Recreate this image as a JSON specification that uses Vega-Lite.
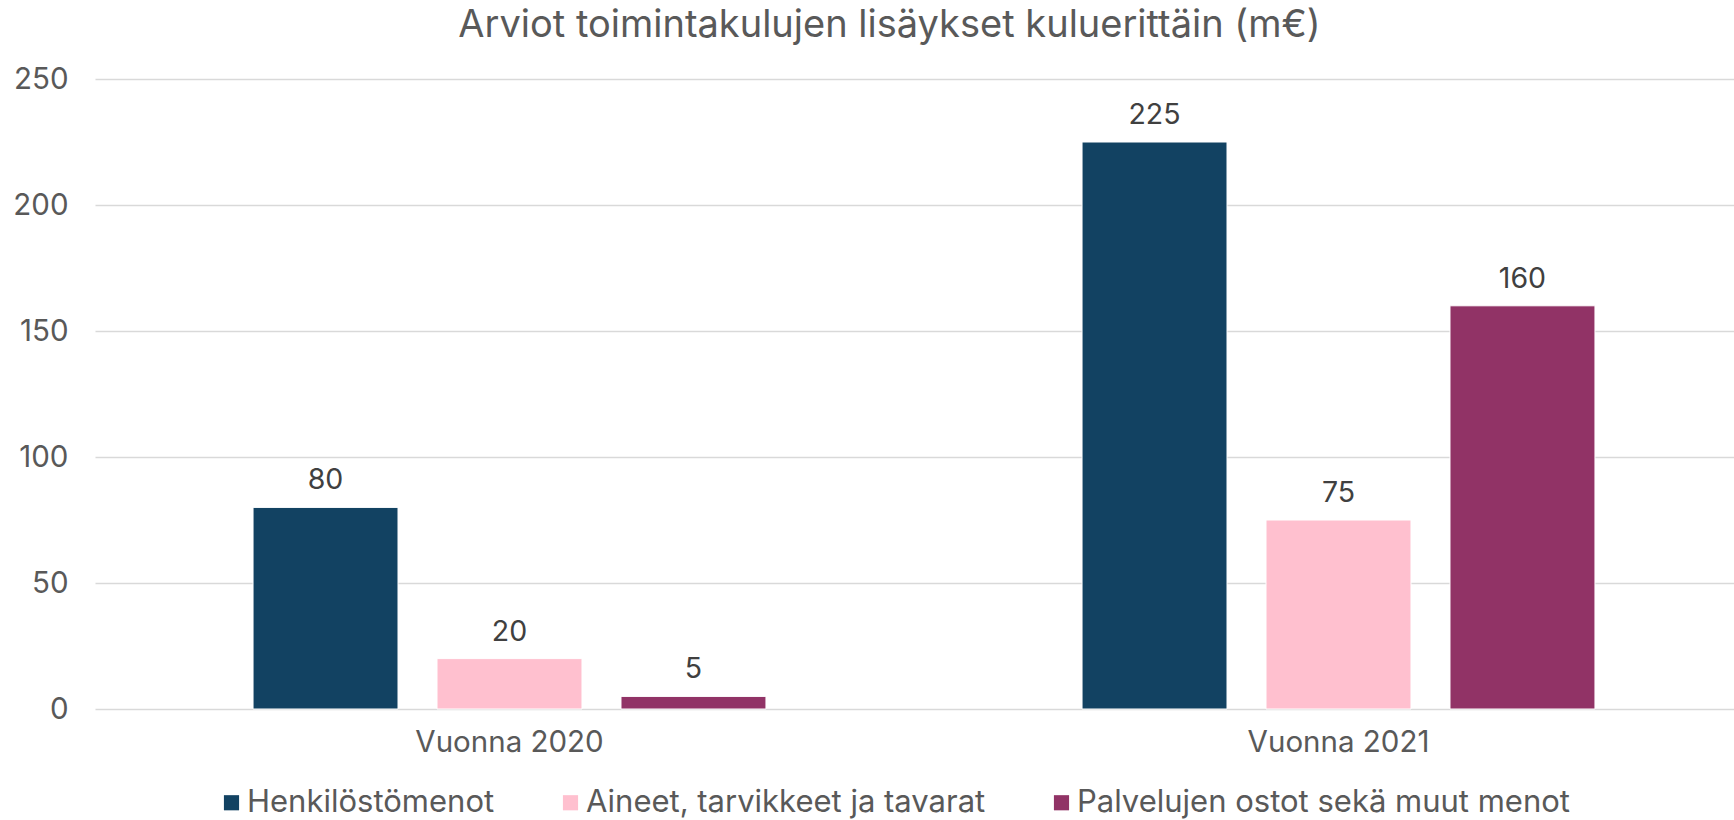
{
  "$schema": "https://vega.github.io/schema/vega-lite/v6.json",
  "autosize": {"type": "none"},
  "width": 1639,
  "height": 630,
  "padding": {"left": 95, "top": 79, "right": 0, "bottom": 111},
  "background": "white",
  "title": {
    "text": "Arviot toimintakulujen lisäykset kuluerittäin (m€)",
    "anchor": "middle",
    "dx": -25,
    "offset": 19,
    "fontSize": 38,
    "font": "Inter",
    "fontWeight": "normal",
    "color": "#595959"
  },
  "config": {
    "view": {"stroke": null},
    "font": "Inter"
  },
  "data": {
    "values": [
      {"vuosi": "Vuonna 2020", "kulu": "Henkilöstömenot", "arvo": 80},
      {"vuosi": "Vuonna 2020", "kulu": "Aineet, tarvikkeet ja tavarat", "arvo": 20},
      {"vuosi": "Vuonna 2020", "kulu": "Palvelujen ostot sekä muut menot", "arvo": 5},
      {"vuosi": "Vuonna 2021", "kulu": "Henkilöstömenot", "arvo": 225},
      {"vuosi": "Vuonna 2021", "kulu": "Aineet, tarvikkeet ja tavarat", "arvo": 75},
      {"vuosi": "Vuonna 2021", "kulu": "Palvelujen ostot sekä muut menot", "arvo": 160}
    ]
  },
  "encoding": {
    "x": {
      "field": "vuosi",
      "type": "nominal",
      "scale": {"range": [0, 1658], "paddingInner": 0, "paddingOuter": 0},
      "axis": {
        "title": null,
        "labelAngle": 0,
        "labelFontSize": 29.5,
        "labelColor": "#595959",
        "labelPadding": 19,
        "labelLimit": 500,
        "ticks": false,
        "domain": false,
        "labelBaseline": "top"
      }
    },
    "xOffset": {
      "field": "kulu",
      "type": "nominal",
      "sort": ["Henkilöstömenot", "Aineet, tarvikkeet ja tavarat", "Palvelujen ostot sekä muut menot"],
      "scale": {"paddingInner": 0.212, "paddingOuter": 0.859}
    },
    "y": {
      "field": "arvo",
      "type": "quantitative",
      "scale": {"domain": [0, 250], "nice": false},
      "axis": {
        "title": null,
        "values": [0, 50, 100, 150, 200, 250],
        "labelFontSize": 29.5,
        "labelColor": "#595959",
        "labelPadding": 27,
        "ticks": false,
        "domain": false,
        "gridColor": "#D9D9D9",
        "gridWidth": 1.5
      }
    }
  },
  "layer": [
    {
      "mark": {"type": "bar", "stroke": "white", "strokeWidth": 1},
      "encoding": {
        "color": {
          "field": "kulu",
          "type": "nominal",
          "sort": ["Henkilöstömenot", "Aineet, tarvikkeet ja tavarat", "Palvelujen ostot sekä muut menot"],
          "scale": {
            "domain": ["Henkilöstömenot", "Aineet, tarvikkeet ja tavarat", "Palvelujen ostot sekä muut menot"],
            "range": ["#124262", "#FFC0CF", "#913366"]
          },
          "legend": {
            "title": null,
            "orient": "none",
            "direction": "horizontal",
            "legendX": 121,
            "legendY": 708,
            "symbolType": "square",
            "symbolSize": 230,
            "symbolStrokeWidth": 0,
            "symbolOpacity": 1,
            "labelFontSize": 31,
            "labelColor": "#595959",
            "labelOffset": 0,
            "columnPadding": 60,
            "labelLimit": 700
          }
        }
      }
    },
    {
      "mark": {"type": "text", "baseline": "alphabetic", "dy": -18, "fontSize": 28.5, "color": "#404040"},
      "encoding": {
        "text": {"field": "arvo", "type": "quantitative"}
      }
    }
  ]
}
